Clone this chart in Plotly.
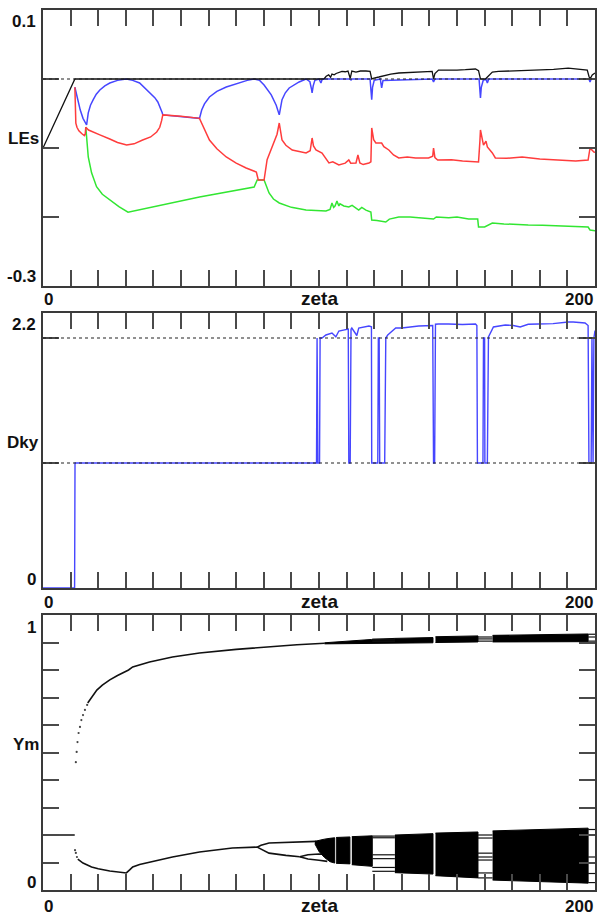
import plotly.graph_objects as go

# ---------------- data: panel 1 (Lyapunov exponents vs zeta) ----------------
LE1 = [(0, -0.1), (11.55, 0.0), (101.8, 0.0), (102.6, 0.004), (103.5, 0.006), (104.2, 0.0025),
       (104.7, 0.0072), (105.5, 0.006), (106.2, 0.008), (107.2, 0.010), (108.3, 0.011), (109.5, 0.0105),
       (110.5, 0.0116), (111.3, 0.001), (111.9, 0.0116), (113.4, 0.010), (115, 0.0116), (117, 0.0116),
       (118.5, 0.011), (119.1, 0.0), (119.6, 0.001), (121.7, 0.0029), (124, 0.0058), (126, 0.0072),
       (128.9, 0.0087), (132, 0.0095), (135, 0.0101), (139.7, 0.0116), (141.0, 0.011), (141.5, 0.0),
       (142.0, 0.008), (143.3, 0.013), (147, 0.0125), (150, 0.013), (153, 0.0135), (156.7, 0.0145),
       (157.8, 0.012), (158.5, 0.0), (160.3, 0.0), (161.5, 0.005), (162.8, 0.010), (165, 0.011),
       (170, 0.0115), (175.8, 0.013), (180, 0.0125), (185, 0.014), (190.3, 0.0159), (193, 0.015),
       (197.2, 0.013), (197.8, 0.004), (198.2, 0.0), (199, 0.006), (200, 0.0087)]

LE2 = [(11.55, -0.012), (12.5, -0.03), (13.5, -0.045), (14.5, -0.057), (15.3, -0.064), (15.8, -0.0667),
       (16.4, -0.049), (17.2, -0.038), (18.2, -0.030), (19.3, -0.022), (20.6, -0.016), (22.4, -0.010),
       (24.2, -0.0058), (27, -0.002), (30.2, 0.0), (32.5, -0.002), (35, -0.0058), (38.6, -0.0188),
       (40.5, -0.027), (41.6, -0.0333), (42.6, -0.042), (43.2, -0.049), (43.4, -0.052), (50, -0.054),
       (56.7, -0.057), (57.5, -0.045), (58.5, -0.036), (60.3, -0.026), (63, -0.018), (66.4, -0.0116),
       (71, -0.0058), (74, -0.002), (76.5, 0.0), (78.5, -0.002), (80.1, -0.0087), (82.7, -0.023),
       (84.5, -0.038), (85.6, -0.052), (86.6, -0.030), (87.8, -0.020), (89.2, -0.013), (92.8, -0.0043),
       (95.3, 0.0), (96.7, -0.004), (97.3, -0.015), (97.5, -0.020), (97.9, -0.010), (98.5, -0.002),
       (100, 0.0), (100.7, -0.0058), (101.2, 0.0), (111.2, 0.0), (111.6, -0.0015), (112, 0.0),
       (118.5, 0.0), (118.9, -0.015), (119.1, -0.030), (119.4, -0.012), (120, -0.002), (122.2, 0.0),
       (122.7, -0.013), (123.2, -0.002), (141, 0.0), (141.5, -0.0043), (142, 0.0), (158, 0.0),
       (158.3, -0.018), (158.5, -0.0275), (158.8, -0.012), (159.5, -0.002), (160.5, 0.0),
       (161, -0.0058), (161.5, 0.0), (197.8, 0.0), (198.2, -0.0043), (198.6, 0.0), (200, 0.0)]

LE3 = [(11.55, -0.012), (11.7, -0.035), (11.9, -0.064), (12.3, -0.07), (13, -0.075), (14, -0.079),
       (15.0, -0.082), (15.3, -0.080), (15.5, -0.070), (16.5, -0.074), (18.5, -0.078), (20.6, -0.081),
       (24.2, -0.087), (27, -0.092), (30.3, -0.0957), (33, -0.094), (36.1, -0.0884), (39, -0.084),
       (41.2, -0.0768), (42.3, -0.070), (43, -0.060), (43.4, -0.052), (50, -0.054), (56.7, -0.057),
       (60.3, -0.0884), (63, -0.101), (66.4, -0.113), (70, -0.122), (73.6, -0.129), (77.3, -0.1348),
       (78, -0.1464), (80.1, -0.1464), (81.2, -0.117), (82.5, -0.104), (83.8, -0.0928), (84.8, -0.080),
       (85.6, -0.0638), (86.1, -0.080), (86.6, -0.0884), (88, -0.096), (90.3, -0.1029), (95.3, -0.1072),
       (96.8, -0.104), (97.5, -0.0855), (98, -0.097), (98.9, -0.1029), (101.1, -0.1072), (103.6, -0.1217),
       (105, -0.120), (107.2, -0.1246), (109.5, -0.122), (110.8, -0.1174), (111.5, -0.122),
       (113.4, -0.1217), (114.1, -0.1101), (114.8, -0.1217), (116, -0.124), (118.1, -0.1217),
       (118.8, -0.120), (119.1, -0.071), (119.8, -0.088), (120.6, -0.0928), (122.7, -0.0928),
       (123.5, -0.098), (125.3, -0.1029), (127, -0.110), (128.9, -0.1145), (132, -0.113),
       (135, -0.1145), (139.7, -0.1145), (141.2, -0.112), (141.5, -0.100), (142, -0.114), (143, -0.1174),
       (148, -0.117), (152, -0.119), (157.8, -0.1203), (158.3, -0.090), (158.5, -0.0739),
       (159.3, -0.090), (159.6, -0.0957), (160.5, -0.090), (161, -0.0986), (162.8, -0.1072),
       (163.9, -0.1145), (168, -0.115), (173.6, -0.113), (180, -0.116), (188.1, -0.1174), (193, -0.119),
       (197.5, -0.1174), (198.2, -0.100), (199.6, -0.1058), (200, -0.106)]

LE4 = [(15.5, -0.0696), (16.0, -0.0884), (16.4, -0.113), (17.6, -0.136), (19.4, -0.156), (21.5, -0.167),
       (24.2, -0.175), (27.5, -0.185), (30.8, -0.193), (56.7, -0.171), (76.5, -0.1565), (77.6, -0.1464),
       (80.1, -0.1464), (81.9, -0.1652), (83.5, -0.174), (85.6, -0.1797), (90, -0.186), (95.3, -0.1899),
       (102.5, -0.1913), (104, -0.189), (104.7, -0.1797), (105.3, -0.186), (105.8, -0.184),
       (106.5, -0.177), (107.2, -0.184), (107.6, -0.181), (109, -0.184), (110.8, -0.1855), (112, -0.183),
       (113.5, -0.188), (114.4, -0.1899), (115.5, -0.186), (117, -0.190), (118.8, -0.1928),
       (119.1, -0.2043), (121, -0.205), (124.2, -0.2072), (125.5, -0.203), (128.9, -0.200), (133, -0.200),
       (137, -0.201), (141.5, -0.203), (142.5, -0.200), (147, -0.201), (150, -0.200), (154.2, -0.2029),
       (157.5, -0.203), (157.8, -0.2145), (160, -0.2145), (162.8, -0.2087), (167, -0.210), (171, -0.211),
       (175.8, -0.2116), (181, -0.212), (186.6, -0.213), (192, -0.2135), (197.5, -0.2145),
       (198.2, -0.2188), (200, -0.220)]

LE_REF = [0.0]

# ---------------- data: panel 2 (Kaplan-Yorke dimension) ----------------
DKY = [(0, 0.0), (11.45, 0.0), (11.6, 1.0), (99.1, 1.0), (99.3, 2.0), (99.6, 1.0), (100.2, 1.0),
       (100.4, 2.0), (101.1, 2.0), (102.5, 2.024), (104.7, 2.04), (106.1, 2.01), (107.2, 2.056),
       (110.1, 2.072), (110.6, 2.072), (110.8, 1.0), (111.3, 1.0), (111.6, 2.07), (111.9, 2.08),
       (113.7, 2.02), (114.4, 2.08), (118.1, 2.096), (119.0, 2.09), (119.1, 1.0), (121.3, 1.0),
       (121.5, 2.0), (121.8, 2.0), (122.0, 1.0), (123.8, 1.0), (124.2, 2.0), (124.9, 2.024),
       (127.8, 2.08), (130, 2.08), (136.1, 2.096), (140.4, 2.104), (141.2, 2.10), (141.5, 1.0),
       (141.9, 1.0), (142.2, 2.11), (143.3, 2.112), (146.9, 2.112), (152, 2.108), (156.7, 2.112),
       (157.2, 2.10), (157.4, 1.0), (159.4, 1.0), (159.6, 2.0), (160.0, 2.0), (160.1, 1.0), (161.0, 1.0),
       (161.4, 2.008), (163.2, 2.088), (167.5, 2.104), (170.4, 2.10), (172.9, 2.088), (175.8, 2.11),
       (179.4, 2.112), (184.8, 2.115), (190.3, 2.128), (192.1, 2.128), (196.4, 2.12), (197.5, 2.10),
       (197.8, 1.0), (198.6, 1.0), (198.9, 2.0), (199.3, 1.0), (199.6, 2.0), (200, 2.06)]

DKY_REF = [1.0, 2.0]

# ---------------- data: panel 3 (bifurcation diagram of Ym) ----------------
YM_FIXED = [(0, 0.2), (11.5, 0.2)]
YM_UP_DOTS = [(11.9, 0.465), (12.2, 0.502), (12.5, 0.538), (12.9, 0.571), (13.4, 0.593), (13.9, 0.618),
              (14.5, 0.636), (15.2, 0.655), (16.0, 0.673)]
YM_LOW_DOTS = [(11.6, 0.145), (11.9, 0.135), (12.3, 0.12)]
YM_UP_LINE = [(16.2, 0.68), (17.6, 0.70), (19.5, 0.727), (21.5, 0.745), (24.2, 0.764), (27, 0.78),
              (30.3, 0.796), (31, 0.80), (32.5, 0.811), (38.6, 0.829), (46.9, 0.847), (56.7, 0.862),
              (70, 0.875), (80.9, 0.884), (92, 0.892), (102, 0.897)]
YM_LOW_LINE = [(12.6, 0.112), (14.5, 0.098), (17.6, 0.084), (20, 0.077), (24.2, 0.069), (28, 0.064),
               (30.2, 0.062), (31.5, 0.074), (32.5, 0.084), (35, 0.093), (38.6, 0.102), (46.9, 0.12),
               (56.7, 0.138), (68.6, 0.153), (77.6, 0.156)]
YM_P2_UP = [(77.6, 0.156), (79, 0.163), (81.9, 0.171), (88, 0.174), (95.3, 0.175), (99, 0.177)]
YM_P2_LOW = [(77.6, 0.156), (79, 0.148), (81.9, 0.134), (88, 0.126), (93, 0.121)]
YM_P4_A = [(93, 0.121), (96, 0.128), (100, 0.131), (103, 0.128)]
YM_P4_B = [(93, 0.121), (96, 0.113), (100, 0.108), (103, 0.104)]

# chaotic bands: (zeta list, upper edge, lower edge)
YM_BANDS = [
    ([98.5, 100, 102, 104, 105.7], [0.177, 0.181, 0.185, 0.188, 0.190], [0.168, 0.140, 0.118, 0.103, 0.098]),
    ([106.2, 111.2], [0.191, 0.193], [0.097, 0.095]),
    ([111.9, 119.3], [0.194, 0.197], [0.092, 0.086]),
    ([127.5, 134, 141.3], [0.200, 0.203, 0.205], [0.063, 0.061, 0.058]),
    ([142.2, 150, 157.6], [0.207, 0.209, 0.211], [0.052, 0.048, 0.044]),
    ([162.9, 175, 188, 197.5], [0.215, 0.218, 0.222, 0.225], [0.036, 0.032, 0.028, 0.025]),
    ([102, 110, 119, 127.5, 141.3], [0.899, 0.905, 0.911, 0.915, 0.918], [0.895, 0.896, 0.897, 0.898, 0.899]),
    ([142.2, 157.6], [0.921, 0.924], [0.900, 0.902]),
    ([162.9, 180, 197.5], [0.926, 0.929, 0.931], [0.902, 0.902, 0.903]),
]
# periodic windows: (zeta start, zeta end, branch values)
YM_WINDOWS = [
    (119.3, 127.5, [0.190, 0.196, 0.128, 0.114, 0.082, 0.068, 0.905, 0.912]),
    (157.6, 162.9, [0.200, 0.189, 0.134, 0.120, 0.109, 0.062, 0.044, 0.920, 0.913, 0.905]),
    (197.5, 200.0, [0.220, 0.120, 0.060, 0.027, 0.930, 0.920, 0.905]),
]

# ---------------- figure ----------------
W, H = 597, 915
L = 43
PLOT_W = W - L
BLUE = "rgb(70,70,255)"
RED = "rgb(255,60,60)"
GREEN = "rgb(50,230,50)"
FONT = "Liberation Sans, Arial, sans-serif"

fig = go.Figure()


def xy(pairs):
    return [p[0] for p in pairs], [p[1] for p in pairs]


def line(pairs, color, ax, width=1.5):
    xs, ys = xy(pairs)
    fig.add_trace(go.Scatter(x=xs, y=ys, mode="lines", line=dict(color=color, width=width),
                             xaxis=ax[0], yaxis=ax[1], showlegend=False, hoverinfo="skip"))


A1, A2, A3 = ("x", "y"), ("x2", "y2"), ("x3", "y3")

# panel 1
line(LE2, BLUE, A1)
line(LE4, GREEN, A1)
line(LE3, RED, A1)
line(LE1, "#111111", A1, 1.3)

# panel 2
line(DKY, BLUE, A2, 1.4)

# panel 3
line(YM_FIXED, "#111111", A3, 1.5)
for seg in (YM_UP_LINE, YM_LOW_LINE, YM_P2_UP, YM_P2_LOW, YM_P4_A, YM_P4_B):
    line(seg, "#111111", A3, 1.6)
for dots in (YM_UP_DOTS, YM_LOW_DOTS):
    xs, ys = xy(dots)
    fig.add_trace(go.Scatter(x=xs, y=ys, mode="markers", marker=dict(color="#444", size=2.2),
                             xaxis="x3", yaxis="y3", showlegend=False, hoverinfo="skip"))
for zs, top, bot in YM_BANDS:
    fig.add_trace(go.Scatter(x=zs + zs[::-1], y=top + bot[::-1], mode="lines", fill="toself",
                             fillcolor="#000000", line=dict(color="#000000", width=1),
                             xaxis="x3", yaxis="y3", showlegend=False, hoverinfo="skip"))
for z0, z1, vals in YM_WINDOWS:
    xs, ys = [], []
    for v in vals:
        xs += [z0, z1, None]
        ys += [v, v, None]
    fig.add_trace(go.Scatter(x=xs, y=ys, mode="lines", line=dict(color="#111", width=1.2),
                             xaxis="x3", yaxis="y3", showlegend=False, hoverinfo="skip"))

# dashed reference lines
for v in LE_REF:
    fig.add_shape(type="line", xref="x", yref="y", x0=0, x1=200, y0=v, y1=v,
                  line=dict(color="#222", width=1.2, dash="3px,3px"), layer="above")
for v in DKY_REF:
    fig.add_shape(type="line", xref="x2", yref="y2", x0=0, x1=200, y0=v, y1=v,
                  line=dict(color="#222", width=1.2, dash="3px,3px"), layer="above")


def px_y(py):
    return 1 - py / H


def px_x(px):
    return (px - L) / PLOT_W


axis_common = dict(showline=True, linecolor="#3a3a3a", linewidth=1.5, mirror="ticks",
                   ticks="inside", ticklen=16, tickwidth=1.5, tickcolor="#4a4a4a",
                   showticklabels=False, showgrid=False, zeroline=False, fixedrange=True)

doms = [(10, 286), (313, 588), (615, 890)]
layout = dict(width=W, height=H, margin=dict(l=L, r=0, t=0, b=0),
              paper_bgcolor="white", plot_bgcolor="white", showlegend=False)
yranges = [[-0.3, 0.1], [0, 2.2], [0, 1]]
yticks = [[-0.2, -0.1, 0.0], [1.0, 2.0], [0.1, 0.2, 0.3, 0.4, 0.5, 0.6, 0.7, 0.8, 0.9]]
for i, (t, b) in enumerate(doms):
    sfx = "" if i == 0 else str(i + 1)
    layout["xaxis" + sfx] = dict(axis_common, range=[0, 200], tick0=0, dtick=10,
                                 domain=[0, 1], anchor="y" + sfx)
    layout["yaxis" + sfx] = dict(axis_common, range=yranges[i], tickvals=yticks[i],
                                 domain=[px_y(b), px_y(t)], anchor="x" + sfx)
fig.update_layout(**layout)

# text labels
anns = []


def ann(text, px, py, xanchor, size=17, bold=False):
    t = f"<b>{text}</b>" if bold else text
    anns.append(dict(text=t, x=px_x(px), y=px_y(py), xref="paper", yref="paper",
                     xanchor=xanchor, yanchor="middle", showarrow=False,
                     font=dict(family=FONT, size=size, color="#111")))


panel_text = [
    ("0.1", 21, "-0.3", 277, "LEs", 138, 299),
    ("2.2", 324, "0", 579, "Dky", 442, 602),
    ("1", 627, "0", 882, "Ym", 744, 906),
]
for top_lbl, ty, bot_lbl, by, name, ny, xy_ in panel_text:
    ann(top_lbl, 38, ty, "right", bold=True)
    ann(bot_lbl, 38, by, "right", bold=True)
    ann(name, 41, ny, "right", bold=True)
    ann("0", 42, xy_, "left", bold=True)
    ann("zeta", 320, xy_ - 1, "center", size=19, bold=True)
    ann("200", 597, xy_, "right", bold=True)
fig.update_layout(annotations=anns)

fig.write_html("out.html")
